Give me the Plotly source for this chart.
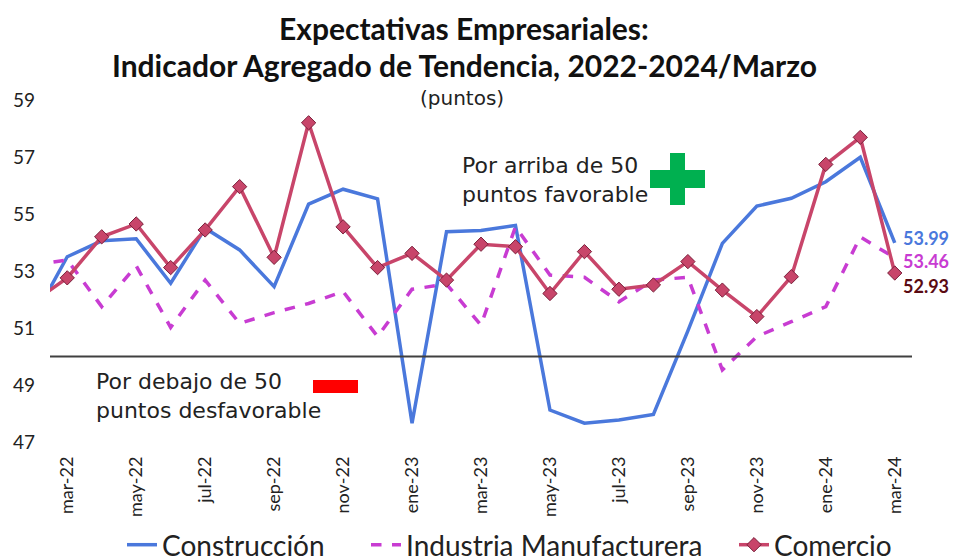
import plotly.graph_objects as go

months = ["feb-22", "mar-22", "abr-22", "may-22", "jun-22", "jul-22", "ago-22", "sep-22", "oct-22",
          "nov-22", "dic-22", "ene-23", "feb-23", "mar-23", "abr-23", "may-23", "jun-23", "jul-23",
          "ago-23", "sep-23", "oct-23", "nov-23", "dic-23", "ene-24", "feb-24", "mar-24"]

construccion = [51.3, 53.5, 54.06, 54.13, 52.57, 54.5, 53.74, 52.45, 55.35, 55.87, 55.53, 47.66, 54.38,
                54.42, 54.6, 48.12, 47.66, 47.77, 47.97, 50.9, 53.97, 55.28, 55.55, 56.13, 56.99, 53.99]
industria = [53.2, 53.39, 51.75, 53.18, 51.02, 52.68, 51.16, 51.54, 51.86, 52.28, 50.7, 52.36, 52.54,
             51.1, 54.55, 52.86, 52.78, 51.92, 52.68, 52.78, 49.53, 50.7, 51.22, 51.75, 54.2, 53.46]
comercio = [51.9, 52.76, 54.2, 54.65, 53.12, 54.44, 55.96, 53.48, 58.2, 54.55, 53.12, 53.62, 52.68,
            53.94, 53.85, 52.21, 53.68, 52.36, 52.51, 53.33, 52.33, 51.4, 52.8, 56.74, 57.69, 52.93]

tick_months = months[1::2]
y_ticks = [47, 49, 51, 53, 55, 57, 59]

FONT = "Lato"
BODY = "DejaVu Sans"
C_BLUE = "#4A78DC"
C_MAG = "#C83CD2"
C_COM = "#C8456A"

# The page body has an 8px margin, so screen coordinates are figure coordinates + 8.
# Plot area on screen: x 50..912, y 100..442
PL, PR, PT, PB = 50, 912, 100, 442
PW, PH = PR - PL, PB - PT

def sx(x):
    return (x - PL) / PW

def sy(y):
    return (PB - y) / PH

fig = go.Figure()
fig.add_trace(go.Scatter(x=months, y=construccion, name="Construcción", mode="lines",
                         line=dict(color=C_BLUE, width=3.5), legend="legend"))
fig.add_trace(go.Scatter(x=months, y=industria, name="Industria Manufacturera", mode="lines",
                         line=dict(color=C_MAG, width=3.5, dash="dash"), legend="legend2"))
fig.add_trace(go.Scatter(x=months, y=comercio, name="Comercio", mode="lines+markers",
                         line=dict(color=C_COM, width=3.5),
                         marker=dict(symbol="diamond", size=11, color=C_COM,
                                     line=dict(color="#7a1f3a", width=1)), legend="legend3"))

# threshold line at 50
fig.add_shape(type="line", xref="paper", x0=0, x1=1, yref="y", y0=50, y1=50,
              line=dict(color="#404040", width=2))

def px_rect(x0, x1, y0, y1, color):
    fig.add_shape(type="rect", xref="paper", yref="paper",
                  x0=sx(x0), x1=sx(x1), y0=sy(y1), y1=sy(y0),
                  fillcolor=color, line=dict(width=0))

# green cross
px_rect(670, 685, 153, 205, "#00B050")
px_rect(650, 705, 170, 188, "#00B050")
# red bar
px_rect(313, 358, 380, 393, "#FF0000")

def px_text(text, x, y, size, family, xanchor="center", align="center", color="#222222"):
    fig.add_annotation(text=text, xref="paper", yref="paper",
                       x=sx(x), y=sy(y), showarrow=False, align=align,
                       font=dict(family=family, size=size, color=color),
                       xanchor=xanchor, yanchor="middle")

px_text("<b>Expectativas Empresariales:</b>", 464, 28, 30, FONT, color="#111111")
px_text("<b>Indicador Agregado de Tendencia, 2022-2024/Marzo</b>", 464, 65, 30, FONT, color="#111111")
px_text("(puntos)", 462, 98, 20, BODY)
px_text("Por arriba de 50<br>puntos favorable", 460, 180, 22, BODY, xanchor="left", align="left")
px_text("Por debajo de 50<br>puntos desfavorable", 94, 396, 22, BODY, xanchor="left", align="left")

# end labels
end_labels = [(construccion[-1], C_BLUE, 5), (industria[-1], C_MAG, -3), (comercio[-1], "#5A0A12", -13)]
for val, col, ys in end_labels:
    fig.add_annotation(text=f"<b>{val:.2f}</b>", x=months[-1], y=val, xref="x", yref="y",
                       showarrow=False, xanchor="left", yanchor="middle", xshift=6, yshift=ys,
                       font=dict(family=FONT, size=18, color=col))

leg_common = dict(orientation="h", xanchor="left", yanchor="middle", y=sy(545),
                  font=dict(family=FONT, size=28, color="#222222"), bgcolor="rgba(0,0,0,0)")

fig.update_layout(
    width=969, height=560,
    margin=dict(l=PL - 8, r=969 - (PR - 8), t=PT - 8, b=560 - (PB - 8), autoexpand=False),
    paper_bgcolor="white", plot_bgcolor="white",
    font=dict(family=FONT, color="#222222"),
    showlegend=True,
    legend=dict(x=sx(122), **leg_common),
    legend2=dict(x=sx(366), **leg_common),
    legend3=dict(x=sx(734), **leg_common),
)
fig.update_xaxes(type="category", range=[0.5, 25.5], tickvals=tick_months, ticktext=tick_months,
                 tickangle=-90, tickfont=dict(family=FONT, size=18, color="#222222"),
                 showgrid=False, showline=False, zeroline=False, ticks="", ticklabelstandoff=10)
fig.update_yaxes(range=[47, 59], tickvals=y_ticks, ticktext=[str(v) for v in y_ticks],
                 tickfont=dict(family=FONT, size=19, color="#222222"),
                 showgrid=False, showline=False, zeroline=False, ticks="", ticklabelstandoff=14)

fig.write_html("out.html")
